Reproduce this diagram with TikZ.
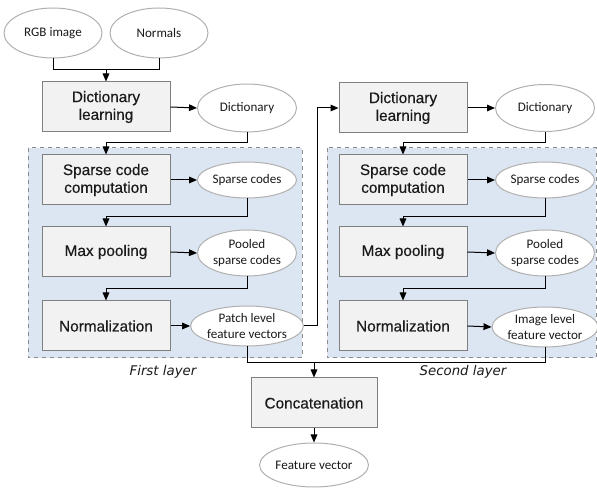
\documentclass[tikz,border=0pt]{standalone}
\usepackage{fontspec}
\setmainfont{Liberation Sans}
\newfontfamily\boxfont[FakeBold=0.35]{Liberation Sans}
\newfontfamily\ellfont{Carlito}
\newfontfamily\labfont{DejaVu Sans}
\usetikzlibrary{arrows.meta,shapes.geometric}
\newlength\pxl \setlength\pxl{0.75pt}
\definecolor{boxfill}{HTML}{F2F2F2}
\definecolor{boxborder}{HTML}{7F7F7F}
\definecolor{ellborder}{HTML}{B0B0B0}
\definecolor{panelfill}{HTML}{DCE6F2}
\definecolor{panelborder}{HTML}{8C8C8C}
\definecolor{txt}{HTML}{1A1A1A}
\begin{document}
\begin{tikzpicture}[x=0.75pt,y=-0.75pt,
 boxnode/.style={draw=boxborder, fill=boxfill, line width=0.75pt, minimum width=128\pxl, minimum height=50\pxl, align=center, inner sep=0pt, text=txt, font=\boxfont\fontsize{11.5}{13.3}\selectfont},
 ellnode/.style={ellipse, draw=ellborder, fill=white, line width=0.75pt, minimum width=99\pxl, inner sep=0pt, align=center, text=txt, font=\ellfont\fontsize{9.8}{11.3}\selectfont},
 conn/.style={line width=0.75pt, -{Triangle[length=6pt,width=5pt]}},
 plain/.style={line width=0.75pt},
 panel/.style={draw=panelborder, fill=panelfill, dashed, line width=0.75pt},
 layerlab/.style={font=\labfont\itshape\fontsize{10}{12}\selectfont, text=txt}
]
\useasboundingbox (0,0) rectangle (597,488);
% panels
\draw[panel] (28,148) rectangle (302,358);
\draw[panel] (327,148) rectangle (596,358);
% top inputs
\node[ellnode, minimum height=50\pxl, minimum width=98\pxl] (rgb) at (53,33) {RGB image};
\node[ellnode, minimum height=50\pxl, minimum width=98\pxl] (nrm) at (159,33) {Normals};
% first column
\node[boxnode] (dl1) at (106,107) {Dictionary\\learning};
\node[ellnode, minimum height=48\pxl] (dict1) at (247,108) {Dictionary};
\node[boxnode] (sc1) at (106,180) {Sparse code\\computation};
\node[ellnode, minimum height=36\pxl] (scs1) at (247,180) {Sparse codes};
\node[boxnode] (mp1) at (106,252) {Max pooling};
\node[ellnode, minimum height=46\pxl] (pool1) at (247,253) {Pooled\\sparse codes};
\node[boxnode] (nm1) at (106,326) {Normalization};
\node[ellnode, minimum height=40\pxl] (patch) at (247,326) {Patch level\\feature vectors};
% second column
\node[boxnode] (dl2) at (403,108) {Dictionary\\learning};
\node[ellnode, minimum height=47\pxl] (dict2) at (545,108) {Dictionary};
\node[boxnode] (sc2) at (403,180) {Sparse code\\computation};
\node[ellnode, minimum height=36\pxl] (scs2) at (545,180) {Sparse codes};
\node[boxnode] (mp2) at (403,252) {Max pooling};
\node[ellnode, minimum height=46\pxl] (pool2) at (545,253) {Pooled\\sparse codes};
\node[boxnode] (nm2) at (403,326) {Normalization};
\node[ellnode, minimum height=40\pxl] (img) at (545,327) {Image level\\feature vector};
% output
\node[boxnode, minimum width=126\pxl] (cat) at (314,403) {Concatenation};
\node[ellnode, minimum height=44\pxl, minimum width=97\pxl] (fv) at (314,465) {Feature vector};
% layer labels
\node[layerlab] (l1) at (163,372) {First layer};
\node[layerlab] (l2) at (463,372) {Second layer};
% connectors
\coordinate (j1) at (106,70);
\draw[plain] (rgb.south) |- (j1);
\draw[plain] (nrm.south) |- (j1);
\draw[conn] (j1) -- (dl1.north);
\draw[conn] (dl1.east) -- (dict1.west);
\draw[conn] (dict1.south) -- ++(0,10) -| (sc1.north);
\draw[conn] (sc1.east) -- (scs1.west);
\draw[conn] (scs1.south) -- ++(0,18) -| (mp1.north);
\draw[conn] (mp1.east) -- (pool1.west);
\draw[conn] (pool1.south) -- ++(0,12) -| (nm1.north);
\draw[conn] (nm1.east) -- (patch.west);
\coordinate (rx) at (317,326);
\draw[conn] (patch.east) -- (rx) |- (dl2.west);
\draw[conn] (dl2.east) -- (dict2.west);
\draw[conn] (dict2.south) -- ++(0,11) -| (sc2.north);
\draw[conn] (sc2.east) -- (scs2.west);
\draw[conn] (scs2.south) -- ++(0,18) -| (mp2.north);
\draw[conn] (mp2.east) -- (pool2.west);
\draw[conn] (pool2.south) -- ++(0,12) -| (nm2.north);
\draw[conn] (nm2.east) -- (img.west);
\coordinate (j2) at (314,363);
\draw[plain] (patch.south) |- (j2);
\draw[plain] (img.south) |- (j2);
\draw[conn] (j2) -- (cat.north);
\draw[conn] (cat.south) -- (fv.north);
\end{tikzpicture}
\end{document}
